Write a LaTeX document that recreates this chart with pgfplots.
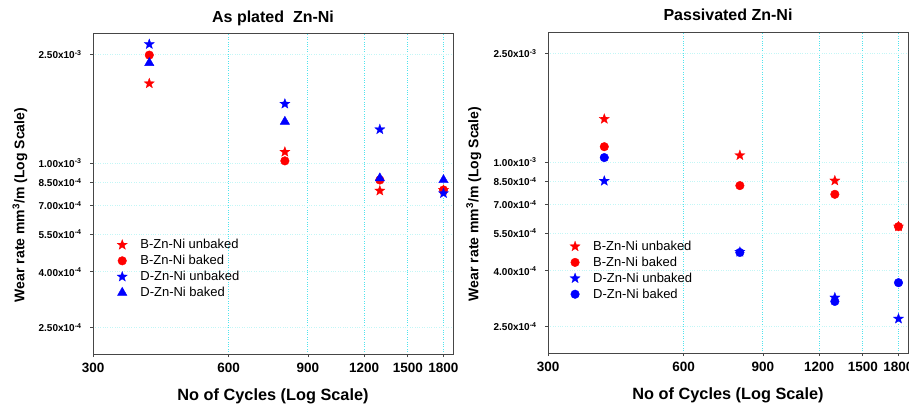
\documentclass[border=0pt]{standalone}
\usepackage{fontspec}
\setmainfont{Liberation Sans}
\usepackage{pgfplots}
\pgfplotsset{compat=1.18}
\definecolor{gridc}{RGB}{80,228,238}
\definecolor{gridh}{RGB}{195,246,246}
\definecolor{axc}{RGB}{70,70,70}

\pgfdeclareplotmark{fstar}{%
  \pgfpathmoveto{\pgfpointpolar{90}{\pgfplotmarksize}}%
  \pgfpathlineto{\pgfpointpolar{126}{0.42\pgfplotmarksize}}%
  \pgfpathlineto{\pgfpointpolar{162}{\pgfplotmarksize}}%
  \pgfpathlineto{\pgfpointpolar{198}{0.42\pgfplotmarksize}}%
  \pgfpathlineto{\pgfpointpolar{234}{\pgfplotmarksize}}%
  \pgfpathlineto{\pgfpointpolar{270}{0.42\pgfplotmarksize}}%
  \pgfpathlineto{\pgfpointpolar{306}{\pgfplotmarksize}}%
  \pgfpathlineto{\pgfpointpolar{342}{0.42\pgfplotmarksize}}%
  \pgfpathlineto{\pgfpointpolar{18}{\pgfplotmarksize}}%
  \pgfpathlineto{\pgfpointpolar{54}{0.42\pgfplotmarksize}}%
  \pgfpathclose
  \pgfusepathqfillstroke
}

\newcommand{\yl}[2]{\textbf{#1x10\textsuperscript{#2}}}

\tikzset{
 bu/.style={mark=fstar, mark size=5.4pt, red, mark options={fill=red, draw=red, line width=0.2pt}},
 bb/.style={mark=*, mark size=4.3pt, red, mark options={fill=red, draw=red}},
 du/.style={mark=fstar, mark size=5.4pt, blue, mark options={fill=blue, draw=blue, line width=0.2pt}},
 dbt/.style={mark=triangle*, mark size=5.4pt, blue, mark options={fill=blue, draw=blue}},
 dbc/.style={mark=*, mark size=4.3pt, blue, mark options={fill=blue, draw=blue}},
}

\pgfplotsset{
 every axis/.append style={
  scale only axis, width=360pt, height=321pt,
  xmin=300, xmax=1890, ymin=2e-4, ymax=3e-3,
  xtick={300,600,900,1200,1500,1800},
  xticklabels={300,600,900,1200,1500,1800},
  ytick={2.5e-4,4e-4,5.5e-4,7e-4,8.5e-4,1e-3,2.5e-3},
  yticklabels={\yl{2.50}{-4},\yl{4.00}{-4},\yl{5.50}{-4},\yl{7.00}{-4},\yl{8.50}{-4},\yl{1.00}{-3},\yl{2.50}{-3}},
  minor xtick={}, minor ytick={},
  tick align=outside, xtick pos=bottom, ytick pos=left,
  major tick length=3pt,
  axis line style={axc, line width=0.9pt},
  every tick/.style={axc, line width=0.8pt},
  grid=major,
  x grid style={gridc, dotted, line width=0.9pt},
  y grid style={gridh, dotted, line width=0.7pt},
  xticklabel style={font=\fontsize{13.5}{14}\selectfont\bfseries, yshift=-3pt},
  yticklabel style={font=\fontsize{10}{11}\selectfont\bfseries, xshift=-5pt},
  xlabel style={font=\fontsize{16.3}{18}\selectfont\bfseries, at={(axis description cs:0.5,-0.131)}, anchor=center},
  ylabel style={font=\fontsize{14}{15}\selectfont\bfseries, anchor=center},
  xlabel={No of Cycles (Log Scale)},
  ylabel={Wear rate mm\textsuperscript{3}/m (Log Scale)},
  legend style={draw=none, fill=none, font=\fontsize{13}{16.8}\selectfont, anchor=north west, row sep=1pt,
    /tikz/every odd column/.append style={column sep=11pt}},
  legend cell align=left,
  clip=false,
 }
}

\begin{document}
\begin{tikzpicture}
\useasboundingbox (0pt,0pt) rectangle (909pt,409pt);

\begin{loglogaxis}[at={(93pt,55pt)}, anchor=south west,
  ylabel style={at={(axis description cs:-0.203,0.464)}},
  legend style={at={(axis description cs:0.058,0.37)}}]
\addplot[only marks, bu] coordinates {(400,1.96e-3) (800,1.10e-3) (1300,7.93e-4) (1800,7.98e-4)};
\addlegendentry{B-Zn-Ni unbaked}
\addplot[only marks, bb] coordinates {(400,2.49e-3) (800,1.02e-3) (1300,8.68e-4) (1800,7.98e-4)};
\addlegendentry{B-Zn-Ni baked}
\addplot[only marks, du] coordinates {(400,2.73e-3) (800,1.65e-3) (1300,1.33e-3) (1800,7.76e-4)};
\addlegendentry{D-Zn-Ni unbaked}
\addplot[only marks, dbt] coordinates {(400,2.33e-3) (800,1.42e-3) (1300,8.81e-4) (1800,8.68e-4)};
\addlegendentry{D-Zn-Ni baked}
\node[font=\fontsize{16}{18}\selectfont\bfseries, anchor=center] at (axis description cs:0.5,1.047) {As plated\ \ Zn-Ni};
\end{loglogaxis}

\begin{loglogaxis}[at={(548pt,56pt)}, anchor=south west,
  ylabel style={at={(axis description cs:-0.206,0.464)}},
  legend style={at={(axis description cs:0.052,0.362)}}]
\addplot[only marks, bu] coordinates {(400,1.44e-3) (800,1.06e-3) (1300,8.56e-4) (1800,5.81e-4)};
\addlegendentry{B-Zn-Ni unbaked}
\addplot[only marks, bb] coordinates {(400,1.14e-3) (800,8.21e-4) (1300,7.63e-4) (1800,5.81e-4)};
\addlegendentry{B-Zn-Ni baked}
\addplot[only marks, du] coordinates {(400,8.54e-4) (800,4.69e-4) (1300,3.19e-4) (1800,2.67e-4)};
\addlegendentry{D-Zn-Ni unbaked}
\addplot[only marks, dbc] coordinates {(400,1.04e-3) (800,4.67e-4) (1300,3.09e-4) (1800,3.62e-4)};
\addlegendentry{D-Zn-Ni baked}
\node[font=\fontsize{16}{18}\selectfont\bfseries, anchor=center] at (axis description cs:0.5,1.053) {Passivated Zn-Ni};
\end{loglogaxis}
\end{tikzpicture}
\end{document}
